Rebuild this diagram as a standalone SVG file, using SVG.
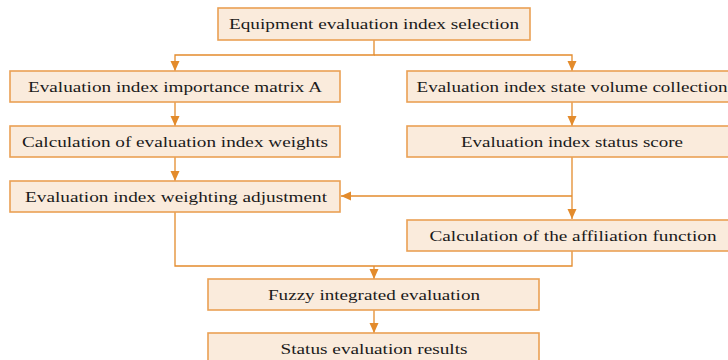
<svg xmlns="http://www.w3.org/2000/svg" width="728" height="360" viewBox="0 0 728 360">
<defs>
<marker id="arr" markerUnits="userSpaceOnUse" markerWidth="10" markerHeight="10" viewBox="0 0 10 10" refX="10" refY="5" orient="auto">
<path d="M0,0.5 L10,5 L0,9.5 Z" fill="#E38B2C"/>
</marker>
<style>
.box{fill:#FAEBDC;stroke:#EAA054;stroke-width:1.6}
text{font-family:'Liberation Serif','Times New Roman',serif;font-size:15px;fill:#1a1a1a;text-anchor:middle}
.c{fill:none;stroke:#E38B2C;stroke-width:1.3}
</style>
</defs>
<rect width="728" height="360" fill="#fff"/>
<g id="connectors">
<path class="c" d="M374 40 V55 H175 V71" marker-end="url(#arr)"/>
<path class="c" d="M374 55 H572 V71" marker-end="url(#arr)"/>
<path class="c" d="M175 102 V126" marker-end="url(#arr)"/>
<path class="c" d="M572 102 V126" marker-end="url(#arr)"/>
<path class="c" d="M175 157 V181" marker-end="url(#arr)"/>
<path class="c" d="M572 157 V219" marker-end="url(#arr)"/>
<path class="c" d="M572 196 H341" marker-end="url(#arr)"/>
<path class="c" d="M175 212 V266 H572 V251"/>
<path class="c" d="M374 266 V279" marker-end="url(#arr)"/>
<path class="c" d="M374 310 V333" marker-end="url(#arr)"/>
</g>
<g id="n1"><rect class="box" x="218" y="8" width="312" height="32"/><text font-family="Liberation Serif, serif" x="374" y="29" textLength="290" lengthAdjust="spacingAndGlyphs">Equipment evaluation index selection</text></g>
<g id="n2"><rect class="box" x="10" y="71" width="330" height="31"/><text font-family="Liberation Serif, serif" x="175" y="92" textLength="294" lengthAdjust="spacingAndGlyphs">Evaluation index importance matrix A</text></g>
<g id="n3"><rect class="box" x="407" y="71" width="330" height="31"/><text font-family="Liberation Serif, serif" x="572" y="92" textLength="311" lengthAdjust="spacingAndGlyphs">Evaluation index state volume collection</text></g>
<g id="n4"><rect class="box" x="10" y="126" width="330" height="31"/><text font-family="Liberation Serif, serif" x="175" y="147" textLength="306" lengthAdjust="spacingAndGlyphs">Calculation of evaluation index weights</text></g>
<g id="n5"><rect class="box" x="407" y="126" width="330" height="31"/><text font-family="Liberation Serif, serif" x="572" y="147" textLength="222" lengthAdjust="spacingAndGlyphs">Evaluation index status score</text></g>
<g id="n6"><rect class="box" x="10" y="181" width="330" height="31"/><text font-family="Liberation Serif, serif" x="176" y="202" textLength="302" lengthAdjust="spacingAndGlyphs">Evaluation index weighting adjustment</text></g>
<g id="n7"><rect class="box" x="407" y="220" width="330" height="31"/><text font-family="Liberation Serif, serif" x="573" y="241" textLength="287" lengthAdjust="spacingAndGlyphs">Calculation of the affiliation function</text></g>
<g id="n8"><rect class="box" x="208" y="279" width="331" height="31"/><text font-family="Liberation Serif, serif" x="374" y="300" textLength="212" lengthAdjust="spacingAndGlyphs">Fuzzy integrated evaluation</text></g>
<g id="n9"><rect class="box" x="208" y="333" width="331" height="31"/><text font-family="Liberation Serif, serif" x="374" y="354" textLength="187" lengthAdjust="spacingAndGlyphs">Status evaluation results</text></g>
</svg>
